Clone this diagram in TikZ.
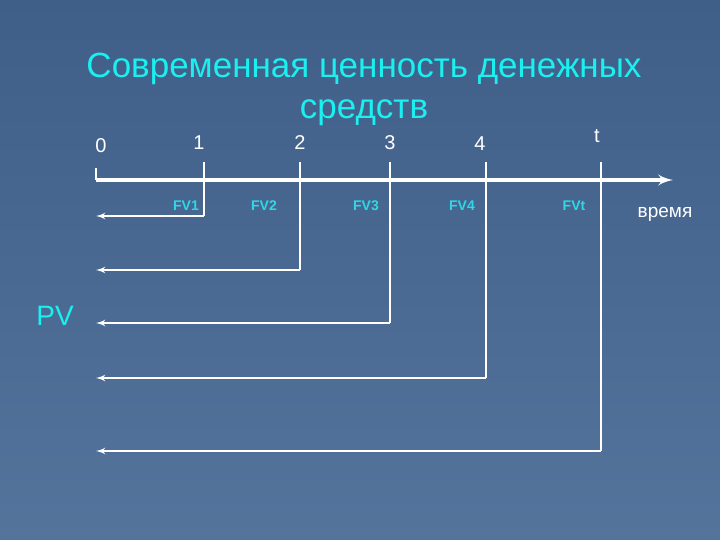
\documentclass[tikz,border=0pt]{standalone}
\usepackage{fontspec}
\setmainfont{Liberation Sans}
\usetikzlibrary{arrows}
\definecolor{slidetop}{HTML}{3F5E88}
\definecolor{slidebot}{HTML}{55749C}
\definecolor{titlecyan}{HTML}{1AF0F0}
\definecolor{fvcyan}{HTML}{2ED8E4}

\begin{document}
\begin{tikzpicture}[x=1pt,y=-1pt]
        \tikzset{tick/.style = {white, line width=1.3pt}}
        \tikzset{flow/.style = {->, > = latex', white, line width=2.2pt}}
        \tikzset{axis/.style = {->, > = latex', white, line width=4pt}}
        \tikzset{num/.style = {text=white, font=\fontsize{20}{20}\selectfont}}
        \tikzset{fv/.style = {text=fvcyan, font=\bfseries\fontsize{14}{14}\selectfont}}

        % background
        \shade[top color=slidetop, bottom color=slidebot] (0,0) rectangle (720,540);
        \useasboundingbox (0,0) rectangle (720,540);

        % title
        \node[text=titlecyan, align=center, font=\fontsize{35}{41}\selectfont] (title) at (364,89)
            {Современная ценность денежных\\средств};

        % time axis
        \coordinate (origin) at (96,180);
        \coordinate (tick0) at (96,168);
        \coordinate (axisend) at (673,180);
        \node[num] (lbl0) at (101,146) {0};
        \draw[tick] (tick0) -- (origin);
        \draw[axis] (origin) -- (axisend);
        \node[text=white, font=\fontsize{19}{19}\selectfont] (time) at (665,214) {время};

        % cash flows
        \foreach \i/\x/\y/\lx/\ly/\fvx in {1/204/216/199/143/186, 2/300/270/300/143/264,
                3/390/323/390/143/366, 4/486/378/480/144/462, t/601/451/597/136/574}
        {
            \coordinate (top\i) at (\x,162);
            \coordinate (corner\i) at (\x,\y);
            \coordinate (end\i) at (96,\y);
            \node[num] (lbl\i) at (\lx,\ly) {\i};
            \node[fv] (fv\i) at (\fvx,206) {FV\i};
            \draw[tick] (top\i) -- (corner\i);
            \draw[flow] (corner\i) -- (end\i);
        }

        \node[text=titlecyan, font=\fontsize{28}{28}\selectfont] (pv) at (55,316) {PV};

    \end{tikzpicture}
\end{document}
